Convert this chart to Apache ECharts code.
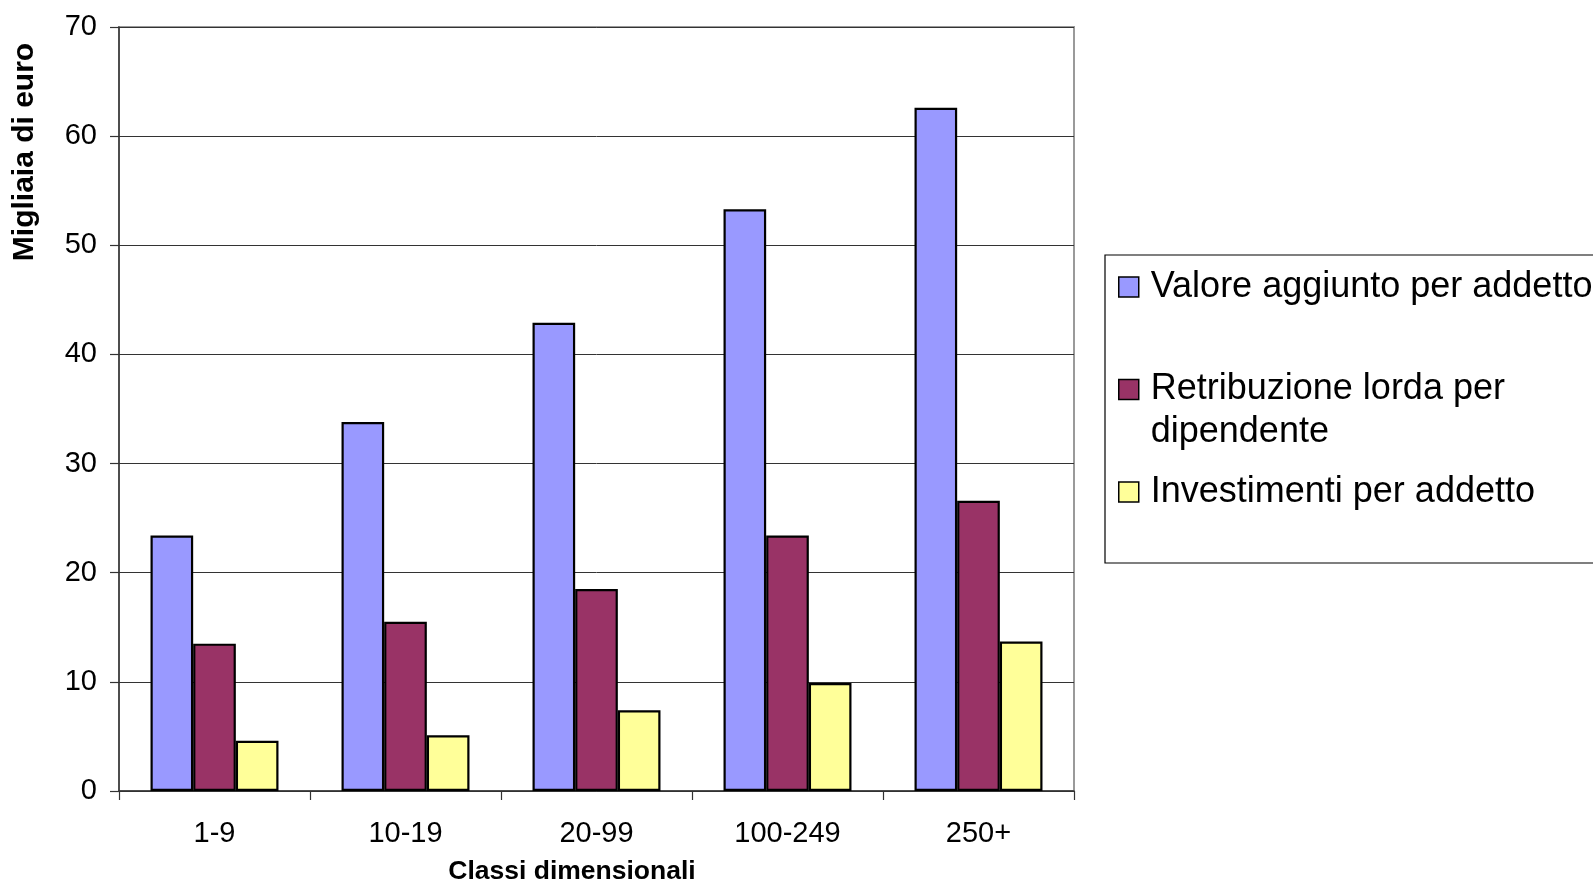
<!DOCTYPE html>
<html>
<head>
<meta charset="utf-8">
<script src="https://cdn.jsdelivr.net/npm/echarts@6/dist/echarts.min.js"></script>
<style>
  html, body { margin: 0; padding: 0; background: #fff; }
  #chart { width: 1593px; height: 885px; }
</style>
</head>
<body>
<div id="chart"></div>
<script>
// Size classes (number of employees)
var categories = ['1-9', '10-19', '20-99', '100-249', '250+'];

// Thousands of euro
var valoreAggiunto = [23.4, 33.8, 42.9, 53.3, 62.6];
var retribuzione = [13.5, 15.5, 18.5, 23.4, 26.6];
var investimenti = [4.6, 5.1, 7.4, 9.9, 13.7];

var seriesNames = [
  'Valore aggiunto per addetto',
  'Retribuzione lorda per dipendente',
  'Investimenti per addetto'
];
var seriesColors = ['#9999FF', '#993366', '#FFFF99'];

var yTicks = [0, 10, 20, 30, 40, 50, 60, 70];

var FONT = '"Liberation Sans", Arial, sans-serif';

var chart = echarts.init(document.getElementById('chart'), null, { renderer: 'canvas' });

function legendAt(name, top, formatter) {
  return {
    data: [name],
    left: 1118,
    top: top,
    orient: 'vertical',
    padding: 0,
    itemWidth: 20,
    itemHeight: 20,
    selectedMode: false,
    icon: 'rect',
    itemStyle: { borderColor: '#000', borderWidth: 1.5 },
    formatter: formatter,
    textStyle: {
      fontFamily: FONT,
      fontSize: 36,
      lineHeight: 43,
      color: '#000',
      padding: [0, 0, 0, 7]
    }
  };
}

var option = {
  backgroundColor: '#fff',
  animation: false,
  grid: {
    left: 119,
    top: 27,
    right: 519,
    bottom: 94,
    show: true,
    borderColor: '#9a9a9a',
    borderWidth: 2,
    backgroundColor: 'transparent'
  },
  legend: [
    legendAt(seriesNames[0], 265.5),
    // blank leading line keeps the first text line level with the swatch
    legendAt(seriesNames[1], 325, function () {
      return '\nRetribuzione lorda per\ndipendente';
    }),
    legendAt(seriesNames[2], 470.5)
  ],
  xAxis: {
    type: 'category',
    data: categories,
    axisLine: { show: true, lineStyle: { color: '#333', width: 1.5 } },
    axisTick: { show: true, length: 9, alignWithLabel: false, lineStyle: { color: '#333', width: 1.2 } },
    axisLabel: {
      fontFamily: FONT,
      fontSize: 29,
      color: '#000',
      margin: 28,
      interval: 0
    },
    splitLine: { show: false }
  },
  yAxis: {
    type: 'value',
    min: yTicks[0],
    max: yTicks[yTicks.length - 1],
    interval: 10,
    axisLine: { show: true, lineStyle: { color: '#333', width: 1.5 } },
    axisTick: { show: true, length: 9, lineStyle: { color: '#333', width: 1.2 } },
    axisLabel: {
      fontFamily: FONT,
      fontSize: 29,
      color: '#000',
      margin: 22
    },
    splitLine: { show: true, lineStyle: { color: '#333', width: 1 } }
  },
  series: [
    {
      name: seriesNames[0],
      type: 'bar',
      data: valoreAggiunto,
      barGap: '0%',
      barCategoryGap: '33%',
      itemStyle: { color: seriesColors[0], borderColor: '#000', borderWidth: 2.2 }
    },
    {
      name: seriesNames[1],
      type: 'bar',
      data: retribuzione,
      barGap: '0%',
      barCategoryGap: '33%',
      itemStyle: { color: seriesColors[1], borderColor: '#000', borderWidth: 2.2 }
    },
    {
      name: seriesNames[2],
      type: 'bar',
      data: investimenti,
      barGap: '0%',
      barCategoryGap: '33%',
      itemStyle: { color: seriesColors[2], borderColor: '#000', borderWidth: 2.2 }
    }
  ],
  graphic: [
    {
      type: 'rect',
      z: -1,
      shape: { x: 1105, y: 255, width: 600, height: 308 },
      style: { fill: '#fff', stroke: '#000', lineWidth: 1.2 }
    },
    {
      type: 'text',
      x: 25,
      y: 152,
      rotation: Math.PI / 2,
      style: {
        text: 'Migliaia di euro',
        font: 'bold 30px ' + FONT,
        fill: '#000',
        textAlign: 'center',
        textVerticalAlign: 'middle'
      }
    },
    {
      type: 'text',
      x: 572,
      y: 872,
      style: {
        text: 'Classi dimensionali',
        font: 'bold 26.5px ' + FONT,
        fill: '#000',
        textAlign: 'center',
        textVerticalAlign: 'middle'
      }
    }
  ]
};

chart.setOption(option);
</script>
</body>
</html>
